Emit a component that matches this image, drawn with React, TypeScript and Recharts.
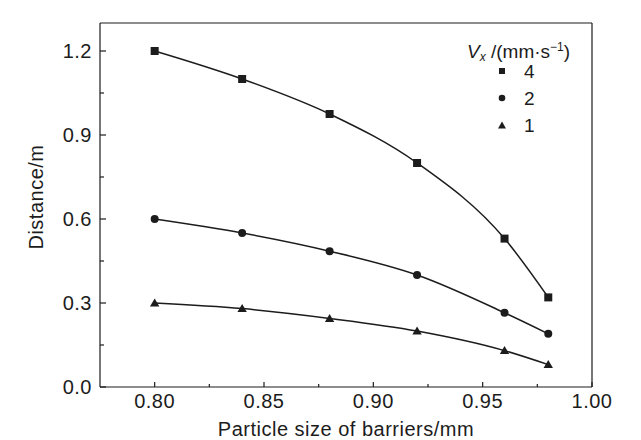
import React from 'react';
import { LineChart, Line, XAxis, YAxis, Legend, ReferenceLine } from 'recharts';

const sizes = [0.8, 0.84, 0.88, 0.92, 0.96, 0.98];
const speed4 = [1.2, 1.1, 0.975, 0.8, 0.53, 0.32];
const speed2 = [0.6, 0.55, 0.485, 0.4, 0.265, 0.19];
const speed1 = [0.3, 0.28, 0.245, 0.2, 0.13, 0.08];

const xTicks = [0.8, 0.825, 0.85, 0.875, 0.9, 0.925, 0.95, 0.975, 1.0];
const yTicks = [0, 0.15, 0.3, 0.45, 0.6, 0.75, 0.9, 1.05, 1.2];

const FONT = '"Liberation Sans", Arial, sans-serif';
const INK = '#1c1c1c';
const FS = 20;

const data = sizes.map((s, i) => ({ size: s, v4: speed4[i], v2: speed2[i], v1: speed1[i] }));

function XTick(props: any) {
  const { x, y, payload } = props;
  const v = payload.value as number;
  const major = Math.round(v * 1000) % 50 === 0;
  return (
    <g>
      <line x1={x} x2={x} y1={y} y2={y - (major ? 5 : 3)} stroke={INK} strokeWidth={1.2} />
      {major && (
        <text x={x} y={y + 7} dy="0.71em" textAnchor="middle" fill={INK} fontSize={FS} fontFamily={FONT} letterSpacing={0.5}>
          {v.toFixed(2)}
        </text>
      )}
    </g>
  );
}

function YTick(props: any) {
  const { x, y, payload } = props;
  const v = payload.value as number;
  const major = Math.round(v * 100) % 30 === 0;
  return (
    <g>
      <line x1={x} x2={x + (major ? 6 : 4)} y1={y} y2={y} stroke={INK} strokeWidth={1.2} />
      {major && (
        <text x={x - 8} y={y} dy="0.355em" textAnchor="end" fill={INK} fontSize={FS} fontFamily={FONT} letterSpacing={0.5}>
          {v.toFixed(1)}
        </text>
      )}
    </g>
  );
}

const Square = (p: any) => <rect x={p.cx - 4} y={p.cy - 4} width={8} height={8} fill={INK} />;
const Circle = (p: any) => <circle cx={p.cx} cy={p.cy} r={4} fill={INK} />;
const Triangle = (p: any) => (
  <polygon points={`${p.cx - 4.7},${p.cy + 3.5} ${p.cx + 4.7},${p.cy + 3.5} ${p.cx},${p.cy - 4.5}`} fill={INK} />
);

function LegendBox() {
  const rows = [
    { label: '4', mark: <rect x={3} y={3} width={6} height={6} fill={INK} /> },
    { label: '2', mark: <circle cx={6} cy={6} r={3.3} fill={INK} /> },
    { label: '1', mark: <polygon points="2,9.5 10,9.5 6,2.5" fill={INK} /> },
  ];
  return (
    <div style={{ position: 'relative', width: 130, height: 110, fontFamily: FONT, color: INK }}>
      <div style={{ position: 'absolute', left: 7, top: 8, fontSize: 19, lineHeight: '19px', whiteSpace: 'nowrap' }}>
        <i>V</i>
        <sub style={{ fontSize: 12, fontStyle: 'italic', verticalAlign: -3 }}>x</sub>
        {' /(mm·s'}
        <sup style={{ fontSize: 12, verticalAlign: 7 }}>−1</sup>
        {')'}
      </div>
      {rows.map((r, i) => (
        <div
          key={r.label}
          style={{ position: 'absolute', left: 0, top: 27.5 + i * 27, height: 27, width: 130, fontSize: 19, lineHeight: '27px' }}
        >
          <svg width={12} height={12} style={{ position: 'absolute', left: 35.7, top: 7.5 }}>
            {r.mark}
          </svg>
          <span style={{ position: 'absolute', left: 64 }}>{r.label}</span>
        </div>
      ))}
    </div>
  );
}

export default function App() {
  return (
    <div style={{ position: 'absolute', left: 0, top: 0, background: '#fff' }}>
      <LineChart width={641} height={440} data={data} margin={{ top: 23, right: 49, bottom: 3, left: 40 }}>
        <XAxis
          dataKey="size"
          type="number"
          domain={[0.775, 1.0]}
          ticks={xTicks}
          interval={0}
          tickSize={0}
          tickMargin={0}
          tickLine={false}
          tick={(p: any) => <XTick {...p} />}
          axisLine={{ stroke: INK, strokeWidth: 1.2 }}
          height={50}
          label={{ value: 'Particle size of barriers/mm', position: 'center', dy: 17, fill: INK, fontSize: FS, fontFamily: FONT, letterSpacing: 0.5 }}
        />
        <YAxis
          type="number"
          domain={[0, 1.3]}
          ticks={yTicks}
          interval={0}
          tickSize={0}
          tickMargin={0}
          tickLine={false}
          tick={(p: any) => <YTick {...p} />}
          axisLine={{ stroke: INK, strokeWidth: 1.2 }}
          width={60}
          label={{ value: 'Distance/m', angle: -90, position: 'center', dx: -34, dy: -8, fill: INK, fontSize: FS, fontFamily: FONT, letterSpacing: 0.5 }}
        />
        <ReferenceLine y={1.3} stroke={INK} strokeWidth={1.2} />
        <ReferenceLine x={1.0} stroke={INK} strokeWidth={1.2} />
        <Line dataKey="v4" type="monotone" stroke={INK} strokeWidth={1.5} dot={Square} activeDot={false} isAnimationActive={false} />
        <Line dataKey="v2" type="monotone" stroke={INK} strokeWidth={1.5} dot={Circle} activeDot={false} isAnimationActive={false} />
        <Line dataKey="v1" type="monotone" stroke={INK} strokeWidth={1.5} dot={Triangle} activeDot={false} isAnimationActive={false} />
        <Legend
          layout="vertical"
          align="center"
          verticalAlign="middle"
          wrapperStyle={{ left: 460, top: 30, width: 130, height: 110 }}
          content={() => <LegendBox />}
        />
      </LineChart>
    </div>
  );
}
